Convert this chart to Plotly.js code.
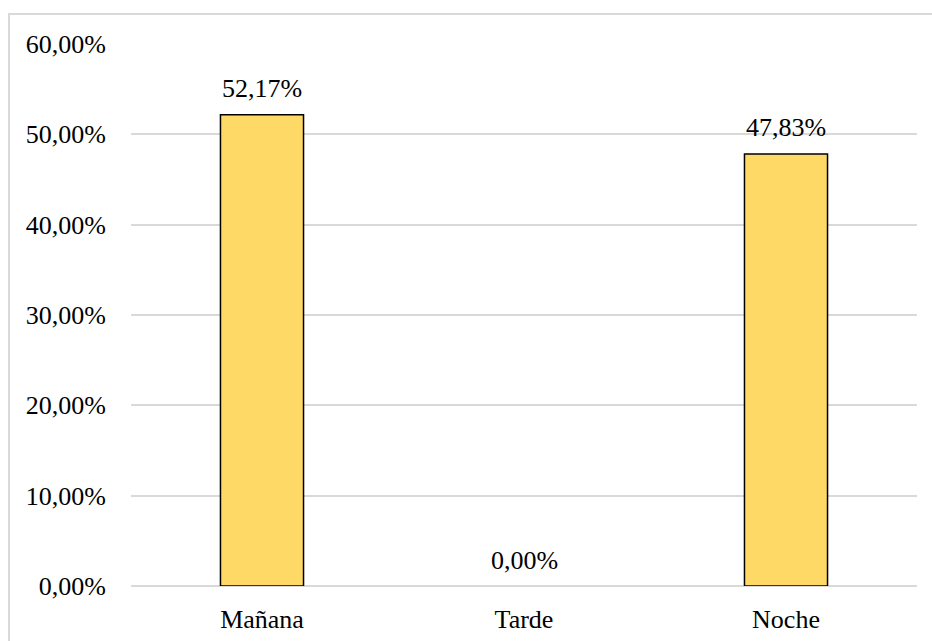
<!DOCTYPE html>
<html>
<head>
<meta charset="utf-8">
<script src="https://cdn.plot.ly/plotly-3.0.1.min.js"></script>
</head>
<body style="margin:0;background:#fff">
<div id="chart"></div>
<script>
const categories = ["Mañana", "Tarde", "Noche"];
const values = [52.17, 0.00, 47.83];
const valueLabels = ["52,17%", "0,00%", "47,83%"];
const tickValues = [0, 10, 20, 30, 40, 50, 60];
const tickLabels = ["0,00%", "10,00%", "20,00%", "30,00%", "40,00%", "50,00%", "60,00%"];

const FONT = "Liberation Serif";
const FS = 26;

const trace = {
  type: "bar",
  x: categories,
  y: values,
  marker: {color: "#FFD966", line: {color: "#000000", width: values.map(v => v > 0 ? 1.5 : 0)}},
  hoverinfo: "none"
};

const annotations = categories.map((c, i) => ({
  x: c, y: values[i], xref: "x", yref: "y",
  text: valueLabels[i], showarrow: false,
  yanchor: "middle", yshift: 26,
  font: {family: FONT, size: FS, color: "#000000"}
}));

const layout = {
  width: 932, height: 641,
  margin: {l: 131, r: 15, t: 44, b: 55},
  paper_bgcolor: "#ffffff", plot_bgcolor: "#ffffff",
  showlegend: false,
  bargap: 0.683,
  xaxis: {
    type: "category",
    showgrid: false, zeroline: false, showline: false, ticks: "",
    tickfont: {family: FONT, size: FS, color: "#000000"},
    ticklabelstandoff: 15
  },
  yaxis: {
    range: [0, 60], fixedrange: true,
    tickvals: tickValues, ticktext: tickLabels,
    showgrid: true, gridcolor: "#d9d9d9", gridwidth: 2,
    zeroline: true, zerolinecolor: "#d9d9d9", zerolinewidth: 2,
    showline: false, ticks: "",
    tickfont: {family: FONT, size: FS, color: "#000000"},
    ticklabelstandoff: 24
  },
  annotations: annotations,
  shapes: [{
    type: "rect", xref: "paper", yref: "paper",
    x0: (9 - 131) / 786, x1: 1.2,
    y0: -0.3, y1: (586 - 14) / 542,
    line: {color: "#d9d9d9", width: 2},
    fillcolor: "rgba(0,0,0,0)", layer: "below"
  }]
};

Plotly.newPlot("chart", [trace], layout, {displayModeBar: false, staticPlot: true});
</script>
</body>
</html>
